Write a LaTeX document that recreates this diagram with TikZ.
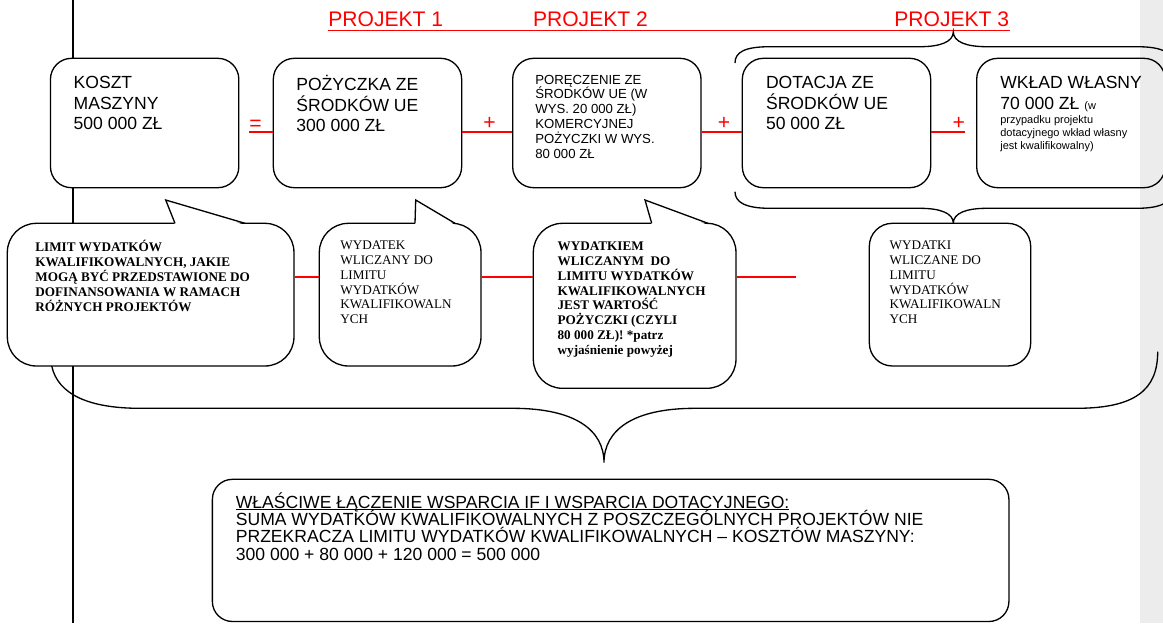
\documentclass[tikz,border=0pt]{standalone}
\usepackage{fontspec}
\setmainfont{Liberation Serif}
\setsansfont{Liberation Sans}
\usepackage{tikz}
\newcommand\undersum[1]{\setbox0\hbox{#1}\rlap{\rule[-1.1pt]{\wd0}{0.45pt}}\box0}
\definecolor{projred}{RGB}{255,0,0}
\definecolor{margingray}{RGB}{236,236,236}
\tikzstyle{topbox}=[draw,line width=0.75pt,fill=white,rounded corners=0.42cm,minimum width=3.768cm,minimum height=2.588cm,inner sep=0pt]
\tikzstyle{bubble}=[draw,line width=0.75pt,fill=white,rounded corners=0.58cm,inner sep=0pt]
\tikzstyle{bigtext}=[anchor=north west,inner sep=0pt,align=left,font=\sffamily\fontsize{10}{11.7}\selectfont,execute at begin node=\strut]
\tikzstyle{smalltext}=[anchor=north west,inner sep=0pt,align=left,font=\sffamily\fontsize{7.5}{8.5}\selectfont,execute at begin node=\strut]
\tikzstyle{tinytext}=[anchor=north west,inner sep=0pt,align=left,font=\sffamily\fontsize{6.25}{7.4}\selectfont,execute at begin node=\strut]
\tikzstyle{notetext}=[anchor=north west,inner sep=0pt,align=left,font=\rmfamily\fontsize{7.5}{8.5}\selectfont,execute at begin node=\strut]
\tikzstyle{projtext}=[anchor=base west,inner sep=0pt,text=projred,font=\sffamily\fontsize{12}{14}\selectfont]
\tikzstyle{sign}=[inner sep=0pt,text=projred,font=\sffamily\fontsize{12}{14}\selectfont]
\tikzstyle{brace}=[line width=0.75pt]

\begin{document}
\begin{tikzpicture}[x=0.02cm,y=-0.02cm]
\useasboundingbox (0,0) rectangle (1163,623);
\clip (0,0) rectangle (1163,623);
\fill[margingray] (1140,0) rectangle (1163,623);
\draw[line width=1pt] (73.3,0) -- (73.3,623);

\node[projtext] (proj1) at (328,26.7) {PROJEKT 1};
\node[projtext] (proj2) at (532.7,26.7) {PROJEKT 2};
\node[projtext] (proj3) at (894,26.7) {PROJEKT 3};
\draw[projred,line width=0.6pt] ([yshift=-1.9pt]proj1.base west) -- ([yshift=-1.9pt]proj3.base east);

\draw[brace] (735,63) .. controls (735,52) and (745,46.7) .. (770,46.7) -- (920,46.7) .. controls (940,46.7) and (953.3,42) .. (953.3,31.7) .. controls (953.3,42) and (966.6,46.7) .. (986.6,46.7) -- (1136.6,46.7) .. controls (1161.6,46.7) and (1171.6,52) .. (1171.6,63);
\draw[brace] (735,191.7) .. controls (735,202) and (745,208.3) .. (770,208.3) -- (920,208.3) .. controls (940,208.3) and (953.3,213) .. (953.3,223.3) .. controls (953.3,213) and (966.6,208.3) .. (986.6,208.3) -- (1136.6,208.3) .. controls (1161.6,208.3) and (1171.6,202) .. (1171.6,191.7);
\draw[brace] (51.7,366) .. controls (58,395) and (90,408.3) .. (140,408.3) -- (513,408.3) .. controls (575,408.3) and (604,430) .. (604,462.7) .. controls (604,430) and (633,408.3) .. (695,408.3) -- (1076,408.3) .. controls (1135,408.3) and (1157.7,390) .. (1157.7,351.7);

\node[topbox] (koszt) at (144.65,123) {};
\node[topbox] (pozyczka) at (367.5,123) {};
\node[topbox] (poreczenie) at (606.85,123) {};
\node[topbox] (dotacja) at (836.5,123) {};
\node[topbox,fill=none] (wklad) at (1070.85,123) {};

\node[bigtext] (kosztT) at (73.3,76) {KOSZT\\MASZYNY\\500 000 ZŁ};
\node[bigtext] (pozyczkaT) at (296,74.9) {POŻYCZKA ZE\\ŚRODKÓW UE\\300 000 ZŁ};
\node[smalltext] (poreczenieT) at (535,74.5) {PORĘCZENIE ZE\\ŚRODKÓW UE (W\\WYS. 20 000 ZŁ)\\KOMERCYJNEJ\\POŻYCZKI W WYS.\\80 000 ZŁ};
\node[bigtext] (dotacjaT) at (765.7,76) {DOTACJA ZE\\ŚRODKÓW UE\\50 000 ZŁ};
\node[bigtext] (wkladT) at (1000,76) {WKŁAD WŁASNY\\70 000 ZŁ {\fontsize{6.25}{7.4}\selectfont (w}};
\node[tinytext] (wkladN) at (1000,115.5) {przypadku projektu\\dotacyjnego wkład własny\\jest kwalifikowalny)};

\node[sign] (eq) at (255.5,125.3) {=};
\node[sign] (plus1) at (489.5,123.7) {+};
\node[sign] (plus2) at (724,123.7) {+};
\node[sign] (plus3) at (958.7,123.7) {+};
\coordinate (eqstart) at (249,131.7);
\coordinate (plusend) at (965,131.7);
\draw[draw=red,line width=1pt] (eqstart) -- (eqstart -| pozyczka.west);
\draw[draw=red,line width=1pt] (pozyczka.east |- eqstart) -- (poreczenie.west |- eqstart);
\draw[draw=red,line width=1pt] (poreczenie.east |- eqstart) -- (dotacja.west |- eqstart);
\draw[draw=red,line width=1pt] (dotacja.east |- eqstart) -- (plusend);

\node[bubble,minimum width=5.734cm,minimum height=2.854cm] (limit) at (150.65,294.65) {};
\node[bubble,minimum width=3.234cm,minimum height=2.854cm] (wydatek) at (400.15,294.65) {};
\node[bubble,minimum width=4.054cm,minimum height=3.3cm] (wydatkiem) at (634.65,305.8) {};
\node[bubble,rounded corners=0.46cm,minimum width=3.228cm,minimum height=2.854cm] (wydatki) at (950,294.65) {};

\fill[white] (175,225) -- (165.7,200) -- (245,225) -- cycle;
\draw[brace] (175,223.3) -- (165.7,200) -- (245,223.3);
\fill[white] (415,225) -- (415.7,200) -- (455,225) -- cycle;
\draw[brace] (415,223.3) -- (415.7,200) -- (455,223.3);
\fill[white] (651.7,225) -- (645,200) -- (708,225) -- cycle;
\draw[brace] (651.7,223.3) -- (645,200) -- (708,223.3);

\node[notetext,font=\rmfamily\bfseries\fontsize{7.5}{8.5}\selectfont] (limitT) at (35,240.2) {LIMIT WYDATKÓW\\KWALIFIKOWALNYCH, JAKIE\\MOGĄ BYĆ PRZEDSTAWIONE DO\\DOFINANSOWANIA W RAMACH\\RÓŻNYCH PROJEKTÓW};
\node[notetext] (wydatekT) at (340,240.2) {WYDATEK\\WLICZANY DO\\LIMITU\\WYDATKÓW\\KWALIFIKOWALN\\YCH};
\node[notetext,font=\rmfamily\bfseries\fontsize{7.5}{8.5}\selectfont] (wydatkiemT) at (557.3,241.2) {WYDATKIEM\\WLICZANYM\ \ DO\\LIMITU WYDATKÓW\\KWALIFIKOWALNYCH\\JEST WARTOŚĆ\\POŻYCZKI (CZYLI\\80 000 ZŁ)! *patrz\\wyjaśnienie powyżej};
\node[notetext] (wydatkiT) at (889.3,240.2) {WYDATKI\\WLICZANE DO\\LIMITU\\WYDATKÓW\\KWALIFIKOWALN\\YCH};

\coordinate (redrow) at (0,277.3);
\coordinate (redend) at (796,277.3);
\draw[draw=red,line width=1pt] (limit.east |- redrow) -- (wydatek.west |- redrow);
\draw[draw=red,line width=1pt] (wydatek.east |- redrow) -- (wydatkiem.west |- redrow);
\draw[draw=red,line width=1pt] (wydatkiem.east |- redrow) -- (redend);

\node[draw,line width=0.75pt,fill=white,rounded corners=0.4cm,minimum width=15.934cm,minimum height=2.844cm,inner sep=0pt] (suma) at (610.65,550.4) {};
\node[bigtext,font=\sffamily\fontsize{10}{9.9}\selectfont] (sumaT) at (235.5,507.7) {\smash{\undersum{WŁAŚCIWE ŁĄCZENIE WSPARCIA IF I WSPARCIA DOTACYJNEGO:}}\\\smash{SUMA WYDATKÓW KWALIFIKOWALNYCH Z POSZCZEGÓLNYCH PROJEKTÓW NIE}\\\smash{PRZEKRACZA LIMITU WYDATKÓW KWALIFIKOWALNYCH – KOSZTÓW MASZYNY:}\\\smash{300 000 + 80 000 + 120 000 = 500 000}};
\end{tikzpicture}
\end{document}
